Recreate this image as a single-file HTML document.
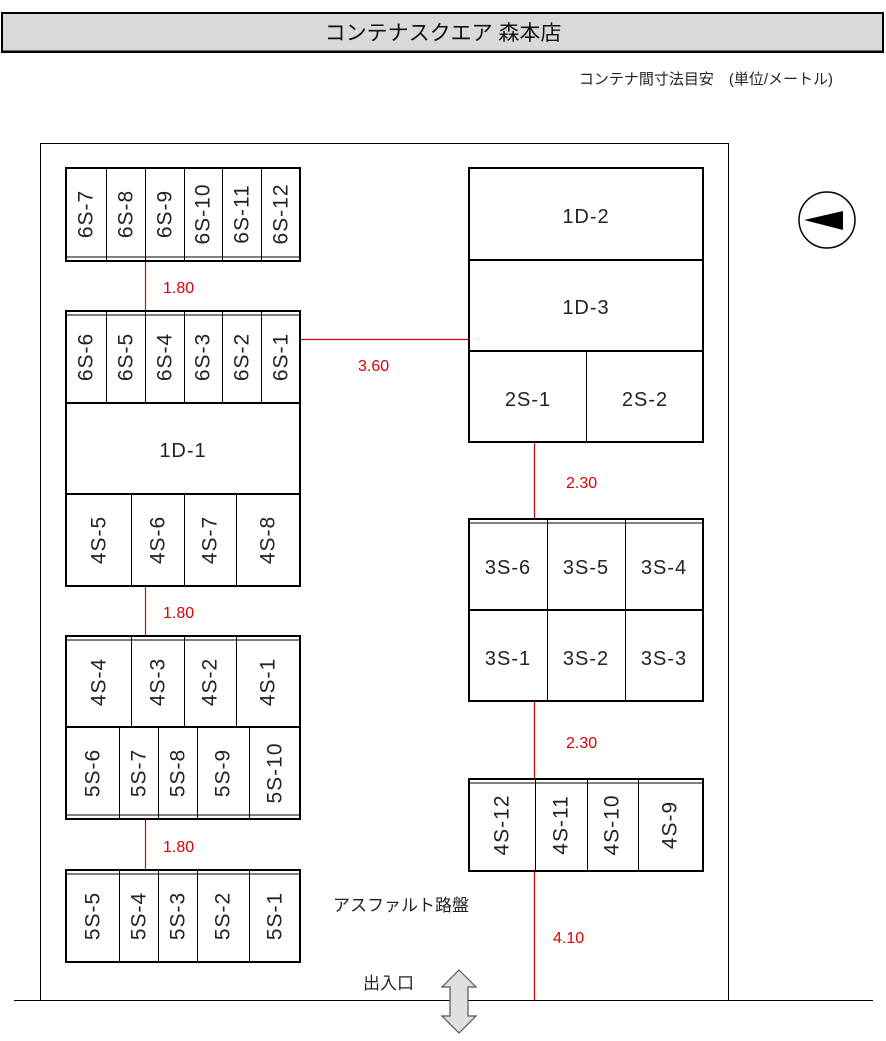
<!DOCTYPE html>
<html><head><meta charset="utf-8"><style>
html,body{margin:0;padding:0;background:#fff;}
svg{display:block;}
text{font-family:"Liberation Sans","Noto Sans CJK JP",sans-serif;}
</style></head><body>
<svg width="886" height="1041" viewBox="0 0 886 1041" xmlns="http://www.w3.org/2000/svg">
<rect x="2" y="13" width="881" height="39" fill="#d9d9d9" stroke="#000" stroke-width="2"/>
<line x1="2" y1="51.5" x2="884" y2="51.5" stroke="#000" stroke-width="2"/>
<line x1="883" y1="13" x2="883" y2="52" stroke="#000" stroke-width="2"/>
<text x="443" y="40" font-size="21" text-anchor="middle" fill="#111">コンテナスクエア 森本店</text>
<text x="833" y="84" font-size="15" text-anchor="end" fill="#222">コンテナ間寸法目安　(単位/メートル)</text>
<rect x="40.5" y="143.5" width="688" height="857" fill="none" stroke="#000" stroke-width="1"/>
<line x1="14" y1="1000.5" x2="873" y2="1000.5" stroke="#000" stroke-width="1"/>
<g fill="none" stroke="#000">
<rect x="66" y="168" width="234" height="93" stroke-width="2"/>
<line x1="66" y1="257" x2="300" y2="257" stroke-width="1"/>
<rect x="66" y="311" width="234" height="92" stroke-width="2"/>
<line x1="66" y1="315" x2="300" y2="315" stroke-width="1"/>
<rect x="66" y="403" width="234" height="91" stroke-width="2"/>
<rect x="66" y="494" width="234" height="92" stroke-width="2"/>
<rect x="66" y="636" width="234" height="91" stroke-width="2"/>
<line x1="66" y1="640" x2="300" y2="640" stroke-width="1"/>
<rect x="66" y="727" width="234" height="92" stroke-width="2"/>
<line x1="66" y1="815" x2="300" y2="815" stroke-width="1"/>
<rect x="66" y="870" width="234" height="92" stroke-width="2"/>
<line x1="66" y1="874" x2="300" y2="874" stroke-width="1"/>
<rect x="469" y="168" width="234" height="92" stroke-width="2"/>
<rect x="469" y="260" width="234" height="91" stroke-width="2"/>
<rect x="469" y="351" width="234" height="91" stroke-width="2"/>
<rect x="469" y="519" width="234" height="91" stroke-width="2"/>
<line x1="469" y1="523" x2="703" y2="523" stroke-width="1"/>
<rect x="469" y="610" width="234" height="91" stroke-width="2"/>
<rect x="469" y="779" width="234" height="92" stroke-width="2"/>
<line x1="469" y1="783" x2="703" y2="783" stroke-width="1"/>
</g>
<g stroke="#000" stroke-width="1">
<line x1="106.5" y1="168" x2="106.5" y2="261"/><line x1="145.5" y1="168" x2="145.5" y2="261"/><line x1="184.5" y1="168" x2="184.5" y2="261"/><line x1="222.5" y1="168" x2="222.5" y2="261"/><line x1="261.5" y1="168" x2="261.5" y2="261"/>
<line x1="106.5" y1="311" x2="106.5" y2="403"/><line x1="145.5" y1="311" x2="145.5" y2="403"/><line x1="184.5" y1="311" x2="184.5" y2="403"/><line x1="222.5" y1="311" x2="222.5" y2="403"/><line x1="261.5" y1="311" x2="261.5" y2="403"/>
<line x1="131.5" y1="494" x2="131.5" y2="586"/><line x1="184.5" y1="494" x2="184.5" y2="586"/><line x1="236.5" y1="494" x2="236.5" y2="586"/>
<line x1="131.5" y1="636" x2="131.5" y2="727"/><line x1="184.5" y1="636" x2="184.5" y2="727"/><line x1="236.5" y1="636" x2="236.5" y2="727"/>
<line x1="119.5" y1="727" x2="119.5" y2="819"/><line x1="158.5" y1="727" x2="158.5" y2="819"/><line x1="197.5" y1="727" x2="197.5" y2="819"/><line x1="249.5" y1="727" x2="249.5" y2="819"/>
<line x1="119.5" y1="870" x2="119.5" y2="962"/><line x1="158.5" y1="870" x2="158.5" y2="962"/><line x1="197.5" y1="870" x2="197.5" y2="962"/><line x1="249.5" y1="870" x2="249.5" y2="962"/>
<line x1="586.5" y1="351" x2="586.5" y2="442"/>
<line x1="547.5" y1="519" x2="547.5" y2="701"/><line x1="625.5" y1="519" x2="625.5" y2="701"/>
<line x1="535.5" y1="779" x2="535.5" y2="871"/><line x1="587.5" y1="779" x2="587.5" y2="871"/><line x1="638.5" y1="779" x2="638.5" y2="871"/>
</g>
<g stroke="#e00000" stroke-width="1.2">
<line x1="145.5" y1="262" x2="145.5" y2="310"/>
<line x1="145.5" y1="587" x2="145.5" y2="635"/>
<line x1="145.5" y1="820" x2="145.5" y2="869"/>
<line x1="301" y1="339.5" x2="468" y2="339.5"/>
<line x1="534.5" y1="443" x2="534.5" y2="518"/>
<line x1="534.5" y1="702" x2="534.5" y2="778"/>
<line x1="534.5" y1="872" x2="534.5" y2="1000"/>
</g>
<g fill="#e00000" font-size="16">
<text x="163" y="293">1.80</text>
<text x="163" y="618">1.80</text>
<text x="163" y="852">1.80</text>
<text x="358" y="371">3.60</text>
<text x="566" y="488">2.30</text>
<text x="566" y="748">2.30</text>
<text x="553" y="943">4.10</text>
</g>
<g font-size="20" fill="#222" text-anchor="middle" dominant-baseline="central" letter-spacing="1">
<text x="183" y="451">1D-1</text>
<text x="586" y="217">1D-2</text>
<text x="586" y="308">1D-3</text>
<text x="528" y="400">2S-1</text>
<text x="645" y="400">2S-2</text>
<text x="508" y="568">3S-6</text><text x="586" y="568">3S-5</text><text x="664" y="568">3S-4</text>
<text x="508" y="659">3S-1</text><text x="586" y="659">3S-2</text><text x="664" y="659">3S-3</text>
</g>
<g font-size="21" fill="#222" text-anchor="middle" dominant-baseline="central" letter-spacing="1">
<text transform="translate(86,214) rotate(-90)">6S-7</text>
<text transform="translate(126,214) rotate(-90)">6S-8</text>
<text transform="translate(165,214) rotate(-90)">6S-9</text>
<text transform="translate(203,214) rotate(-90)">6S-10</text>
<text transform="translate(242,214) rotate(-90)">6S-11</text>
<text transform="translate(281,214) rotate(-90)">6S-12</text>
<text transform="translate(86,357) rotate(-90)">6S-6</text>
<text transform="translate(126,357) rotate(-90)">6S-5</text>
<text transform="translate(165,357) rotate(-90)">6S-4</text>
<text transform="translate(203,357) rotate(-90)">6S-3</text>
<text transform="translate(242,357) rotate(-90)">6S-2</text>
<text transform="translate(281,357) rotate(-90)">6S-1</text>
<text transform="translate(99,540) rotate(-90)">4S-5</text>
<text transform="translate(158,540) rotate(-90)">4S-6</text>
<text transform="translate(210,540) rotate(-90)">4S-7</text>
<text transform="translate(268,540) rotate(-90)">4S-8</text>
<text transform="translate(99,682) rotate(-90)">4S-4</text>
<text transform="translate(158,682) rotate(-90)">4S-3</text>
<text transform="translate(210,682) rotate(-90)">4S-2</text>
<text transform="translate(268,682) rotate(-90)">4S-1</text>
<text transform="translate(93,773) rotate(-90)">5S-6</text>
<text transform="translate(139,773) rotate(-90)">5S-7</text>
<text transform="translate(178,773) rotate(-90)">5S-8</text>
<text transform="translate(223,773) rotate(-90)">5S-9</text>
<text transform="translate(275,773) rotate(-90)">5S-10</text>
<text transform="translate(93,916) rotate(-90)">5S-5</text>
<text transform="translate(139,916) rotate(-90)">5S-4</text>
<text transform="translate(178,916) rotate(-90)">5S-3</text>
<text transform="translate(223,916) rotate(-90)">5S-2</text>
<text transform="translate(275,916) rotate(-90)">5S-1</text>
<text transform="translate(502,825) rotate(-90)">4S-12</text>
<text transform="translate(561,825) rotate(-90)">4S-11</text>
<text transform="translate(612,825) rotate(-90)">4S-10</text>
<text transform="translate(670,825) rotate(-90)">4S-9</text>
</g>
<circle cx="827" cy="220" r="28" fill="#fff" stroke="#000" stroke-width="1.5"/>
<polygon points="804,220 843,211 843,230" fill="#000"/>
<text x="333" y="911" font-size="17" fill="#222">アスファルト路盤</text>
<text x="363" y="989" font-size="17" fill="#222">出入口</text>
<polygon points="459,970 476,987 468,987 468,1016 476,1016 459,1033 442,1016 450,1016 450,987 442,987" fill="#e0e0e0" stroke="#555" stroke-width="1.2"/>
</svg>
</body></html>
